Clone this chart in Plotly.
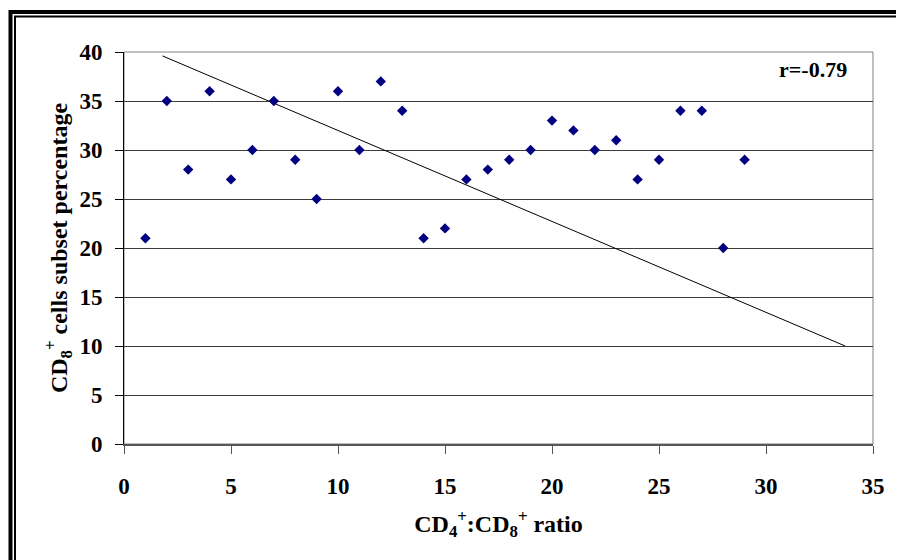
import plotly.graph_objects as go

# Data
ratio = list(range(1, 30))
cd8_pct = [21, 35, 28, 36, 27, 30, 35, 29, 25, 36, 30, 37, 34, 21, 22,
           27, 28, 29, 30, 33, 32, 30, 31, 27, 29, 34, 34, 20, 29]
trend_x = [1.8, 33.7]
trend_y = [39.6, 10.0]
x_ticks = [0, 5, 10, 15, 20, 25, 30, 35]
y_ticks = [0, 5, 10, 15, 20, 25, 30, 35, 40]
r_label = "r=-0.79"

W, H = 897, 560
ML, MR, MT, MB = 124, 24, 52, 116
PW, PH = W - ML - MR, H - MT - MB


def px(x):
    return (x - ML) / PW


def py(y):
    return 1 - (y - MT) / PH


FONT = "Liberation Serif, Times New Roman, serif"

fig = go.Figure()
fig.add_trace(go.Scatter(
    x=trend_x, y=trend_y, mode="lines",
    line=dict(color="black", width=1), hoverinfo="skip", showlegend=False))
fig.add_trace(go.Scatter(
    x=ratio, y=cd8_pct, mode="markers",
    marker=dict(symbol="diamond", size=8, color="#000080",
                line=dict(width=0)),
    showlegend=False))

# outer frame as open paths: thick line (left + top), thin line (left + top)
thick = f"M {px(10.5)},{py(H)} L {px(10.5)},{py(12)} L {px(W - 1)},{py(12)}"
thin = f"M {px(15)},{py(H)} L {px(15)},{py(16.5)} L {px(W - 1)},{py(16.5)}"

shapes = [
    dict(type="rect", xref="x domain", yref="y domain", x0=0, x1=1, y0=0, y1=1,
         line=dict(color="#808080", width=1), layer="below"),
    dict(type="path", xref="paper", yref="paper", path=thick,
         line=dict(color="black", width=4)),
    dict(type="path", xref="paper", yref="paper", path=thin,
         line=dict(color="black", width=2)),
]

AX_FONT = dict(family=FONT, size=23, color="black", weight="bold")
TITLE_FONT = dict(family=FONT, size=24, color="black", weight="bold")

fig.update_layout(
    width=W, height=H,
    margin=dict(l=ML, r=MR, t=MT, b=MB),
    paper_bgcolor="white", plot_bgcolor="white",
    font=dict(family=FONT, color="black"),
    shapes=shapes,
    annotations=[dict(
        text=r_label, xref="paper", yref="paper",
        x=px(849), y=py(69), xanchor="right", yanchor="middle",
        showarrow=False,
        font=dict(family=FONT, size=22, color="black", weight="bold"))],
    xaxis=dict(
        range=[0, 35], tickvals=x_ticks,
        showgrid=False, zeroline=False,
        showline=True, linecolor="#555555", linewidth=2,
        ticks="outside", ticklen=8, tickcolor="#555555", tickwidth=1,
        ticklabelstandoff=12,
        tickfont=AX_FONT,
        title=dict(text="CD<sub>4</sub><sup>+</sup>:CD<sub>8</sub><sup>+</sup> ratio",
                   font=TITLE_FONT, standoff=18),
    ),
    yaxis=dict(
        range=[0, 40], tickvals=y_ticks,
        showgrid=True, gridcolor="#3c3c3c", gridwidth=1, zeroline=False,
        showline=True, linecolor="black", linewidth=1,
        ticks="outside", ticklen=8, tickcolor="black", tickwidth=1,
        ticklabelstandoff=8,
        tickfont=AX_FONT,
        title=dict(text="CD<sub>8</sub><sup>+</sup> cells subset percentage",
                   font=TITLE_FONT, standoff=5),
    ),
)

fig.write_html(
    "out.html",
    config={"displayModeBar": False},
    post_script=("document.documentElement.style.overflow='hidden';"
                 "document.body.style.margin='0';"
                 "document.body.style.overflow='hidden';"),
)
